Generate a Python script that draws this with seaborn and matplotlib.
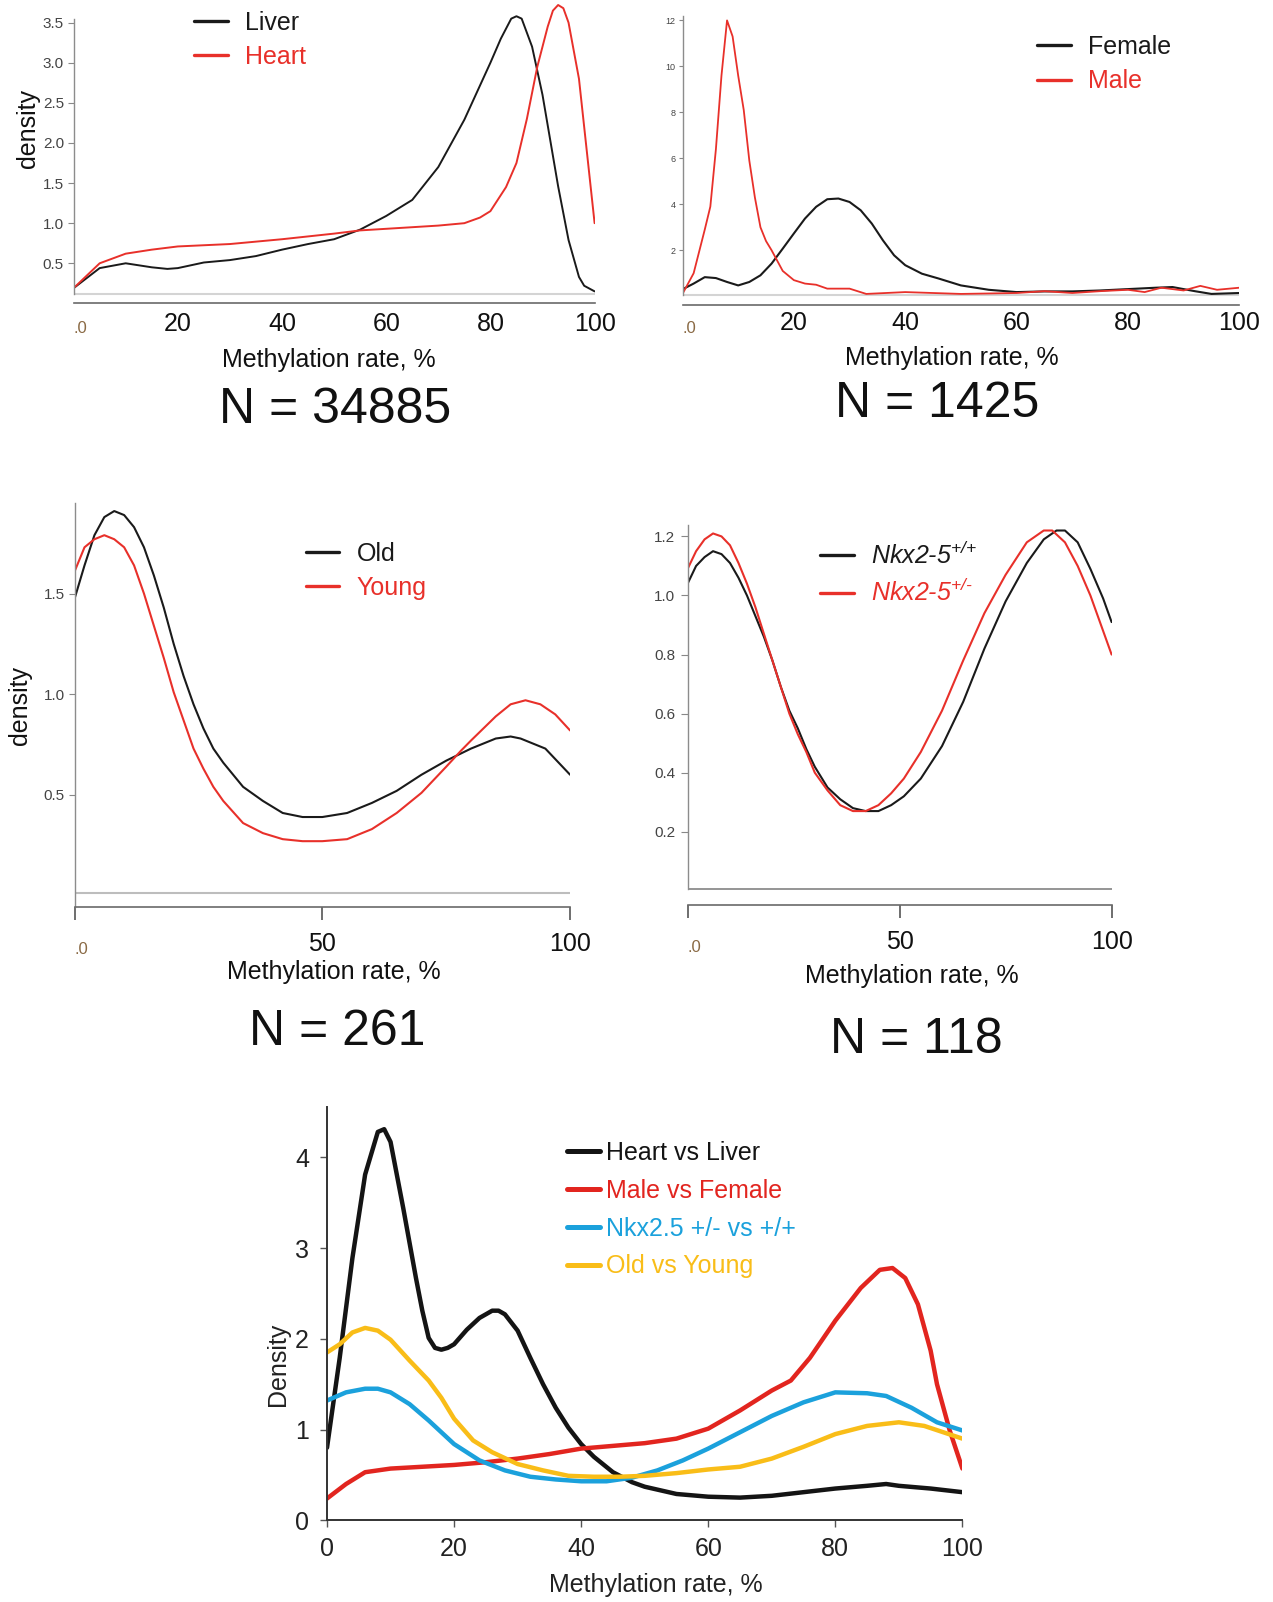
import matplotlib
matplotlib.use("Agg")
import matplotlib.pyplot as plt
import matplotlib.transforms as mtransforms
import seaborn as sns
import numpy as np

# ---------------- data ----------------
# Panel 1: Liver vs Heart
p1_liver_x = [0, 5, 10, 15, 18, 20, 25, 30, 35, 40, 45, 50, 55, 60, 65, 70, 75, 80, 82, 84, 85, 86, 88, 90, 93, 95, 97, 98, 100]
p1_liver_y = [0.19, 0.44, 0.50, 0.45, 0.43, 0.44, 0.51, 0.54, 0.59, 0.67, 0.74, 0.80, 0.92, 1.09, 1.29, 1.70, 2.29, 3.00, 3.30, 3.55, 3.58, 3.55, 3.20, 2.60, 1.46, 0.79, 0.33, 0.22, 0.15]
p1_heart_x = [0, 5, 10, 15, 20, 30, 40, 50, 55, 60, 70, 75, 78, 80, 83, 85, 87, 89, 91, 92, 93, 94, 95, 97, 100]
p1_heart_y = [0.19, 0.50, 0.62, 0.67, 0.71, 0.74, 0.80, 0.87, 0.91, 0.93, 0.97, 1.00, 1.07, 1.15, 1.45, 1.75, 2.30, 2.95, 3.45, 3.65, 3.72, 3.68, 3.50, 2.80, 1.00]

# Panel 2: Female vs Male
p2_female_x = [0, 2, 4, 6, 8, 10, 12, 14, 16, 18, 20, 22, 24, 26, 28, 30, 32, 34, 36, 38, 40, 43, 46, 50, 55, 60, 65, 70, 75, 80, 85, 88, 92, 95, 100]
p2_female_y = [0.30, 0.55, 0.83, 0.79, 0.62, 0.47, 0.62, 0.91, 1.42, 2.07, 2.73, 3.38, 3.89, 4.22, 4.25, 4.10, 3.74, 3.16, 2.43, 1.78, 1.35, 0.98, 0.77, 0.47, 0.28, 0.18, 0.21, 0.21, 0.25, 0.31, 0.37, 0.40, 0.22, 0.10, 0.14]
p2_male_x = [0, 2, 4, 5, 6, 7, 8, 9, 10, 11, 12, 13, 14, 15, 16, 18, 20, 22, 24, 26, 30, 33, 40, 50, 60, 65, 70, 75, 80, 83, 86, 90, 93, 96, 100]
p2_male_y = [0.10, 1.00, 2.90, 3.90, 6.40, 9.60, 12.00, 11.30, 9.60, 8.10, 5.90, 4.30, 3.00, 2.40, 2.00, 1.10, 0.70, 0.55, 0.50, 0.33, 0.33, 0.10, 0.18, 0.10, 0.14, 0.22, 0.14, 0.22, 0.28, 0.18, 0.37, 0.25, 0.45, 0.28, 0.37]

# Panel 3: Old vs Young
p3_old_x = [0, 2, 4, 6, 8, 10, 12, 14, 16, 18, 20, 22, 24, 26, 28, 30, 34, 38, 42, 46, 50, 55, 60, 65, 70, 75, 80, 85, 88, 90, 95, 100]
p3_old_y = [1.475, 1.64, 1.79, 1.88, 1.91, 1.89, 1.83, 1.73, 1.59, 1.43, 1.25, 1.09, 0.95, 0.83, 0.73, 0.66, 0.54, 0.47, 0.41, 0.39, 0.39, 0.41, 0.46, 0.52, 0.60, 0.67, 0.73, 0.78, 0.79, 0.78, 0.73, 0.60]
p3_young_x = [0, 2, 4, 6, 8, 10, 12, 14, 16, 18, 20, 22, 24, 26, 28, 30, 34, 38, 42, 46, 50, 55, 60, 65, 70, 75, 78, 80, 85, 88, 91, 94, 97, 100]
p3_young_y = [1.61, 1.73, 1.77, 1.79, 1.77, 1.73, 1.64, 1.50, 1.34, 1.18, 1.01, 0.87, 0.73, 0.63, 0.54, 0.47, 0.36, 0.31, 0.28, 0.27, 0.27, 0.28, 0.33, 0.41, 0.51, 0.64, 0.72, 0.77, 0.89, 0.95, 0.97, 0.95, 0.90, 0.82]

# Panel 4: Nkx2-5 +/+ vs +/-
p4_wt_x = [0, 2, 4, 6, 8, 10, 12, 14, 16, 18, 20, 22, 24, 26, 28, 30, 33, 36, 39, 42, 45, 48, 51, 55, 60, 65, 70, 75, 80, 84, 87, 89, 92, 95, 98, 100]
p4_wt_y = [1.04, 1.10, 1.13, 1.15, 1.14, 1.11, 1.06, 1.00, 0.93, 0.86, 0.78, 0.69, 0.61, 0.55, 0.48, 0.42, 0.35, 0.31, 0.28, 0.27, 0.27, 0.29, 0.32, 0.38, 0.49, 0.64, 0.82, 0.98, 1.11, 1.19, 1.22, 1.22, 1.18, 1.09, 0.99, 0.91]
p4_het_x = [0, 2, 4, 6, 8, 10, 12, 14, 16, 18, 20, 22, 24, 26, 28, 30, 33, 36, 39, 42, 45, 48, 51, 55, 60, 65, 70, 75, 80, 84, 86, 89, 92, 95, 98, 100]
p4_het_y = [1.09, 1.15, 1.19, 1.21, 1.20, 1.17, 1.11, 1.04, 0.96, 0.87, 0.78, 0.69, 0.60, 0.53, 0.47, 0.40, 0.34, 0.29, 0.27, 0.27, 0.29, 0.33, 0.38, 0.47, 0.61, 0.78, 0.94, 1.07, 1.18, 1.22, 1.22, 1.18, 1.10, 1.00, 0.88, 0.80]

# Panel 5: comparison of differentially methylated sites
p5_hl_x = [0, 2, 4, 6, 8, 9, 10, 12, 14, 15, 16, 17, 18, 19, 20, 22, 24, 26, 27, 28, 30, 32, 34, 36, 38, 40, 42, 45, 48, 50, 55, 60, 65, 70, 75, 80, 85, 88, 90, 95, 100]
p5_hl_y = [0.80, 1.79, 2.89, 3.81, 4.28, 4.31, 4.17, 3.44, 2.67, 2.31, 2.01, 1.90, 1.88, 1.90, 1.94, 2.10, 2.23, 2.31, 2.31, 2.27, 2.09, 1.79, 1.50, 1.24, 1.02, 0.84, 0.70, 0.53, 0.42, 0.37, 0.29, 0.26, 0.25, 0.27, 0.31, 0.35, 0.38, 0.40, 0.38, 0.35, 0.31]
p5_mf_x = [0, 3, 6, 8, 10, 15, 20, 25, 30, 35, 40, 45, 50, 55, 60, 65, 70, 73, 76, 80, 84, 87, 89, 91, 93, 95, 96, 98, 100]
p5_mf_y = [0.24, 0.40, 0.53, 0.55, 0.57, 0.59, 0.61, 0.64, 0.68, 0.73, 0.79, 0.82, 0.85, 0.90, 1.01, 1.21, 1.43, 1.54, 1.79, 2.20, 2.56, 2.76, 2.78, 2.67, 2.38, 1.87, 1.50, 0.99, 0.57]
p5_nkx_x = [0, 3, 6, 8, 10, 13, 16, 20, 24, 28, 32, 36, 40, 44, 48, 52, 56, 60, 65, 70, 75, 80, 85, 88, 92, 96, 100]
p5_nkx_y = [1.32, 1.41, 1.45, 1.45, 1.41, 1.28, 1.10, 0.84, 0.66, 0.55, 0.48, 0.45, 0.43, 0.43, 0.47, 0.55, 0.66, 0.79, 0.97, 1.15, 1.30, 1.41, 1.40, 1.37, 1.24, 1.08, 0.99]
p5_oy_x = [0, 2, 4, 6, 8, 10, 13, 16, 18, 20, 23, 26, 30, 34, 38, 42, 46, 50, 55, 60, 65, 70, 75, 80, 85, 90, 94, 100]
p5_oy_y = [1.85, 1.94, 2.07, 2.12, 2.09, 1.99, 1.76, 1.54, 1.35, 1.12, 0.88, 0.75, 0.62, 0.55, 0.49, 0.48, 0.48, 0.49, 0.52, 0.56, 0.59, 0.68, 0.81, 0.95, 1.04, 1.08, 1.04, 0.90]

p5_labels = ["Heart vs Liver", "Male vs Female", "Nkx2.5 +/- vs +/+", "Old vs Young"]
n_labels = ["N = 34885", "N = 1425", "N = 261", "N = 118"]

# ---------------- style ----------------
sns.set_theme(style="white")
plt.rcParams["font.family"] = ["Liberation Sans", "DejaVu Sans"]
plt.rcParams["mathtext.fontset"] = "custom"
plt.rcParams["mathtext.rm"] = "Liberation Sans:italic"
plt.rcParams["mathtext.it"] = "Liberation Sans:italic"

BLACK = "#1a1a1a"
RED = "#e8302a"
C5 = ["#141414", "#e2251f", "#1ba1dc", "#f9bd18"]

W, H = 1273, 1602
fig = plt.figure(figsize=(W / 100, H / 100), dpi=100)


def make_ax(l, t, r, b):
    return fig.add_axes([l / W, 1 - b / H, (r - l) / W, (b - t) / H])


def draw(ax, x, y, color, label, lw):
    sns.lineplot(x=x, y=y, color=color, label=label, linewidth=lw, ax=ax,
                 estimator=None, errorbar=None, sort=False)


def legend(ax, x_px, y1_px, spacing, lw, hl=1.35, pad=0.7):
    leg = ax.legend(loc="upper left", bbox_to_anchor=(x_px / W, 1 - (y1_px - 14) / H),
                    bbox_transform=fig.transFigure, frameon=False, borderpad=0,
                    borderaxespad=0, handlelength=hl, handletextpad=pad,
                    labelspacing=spacing, fontsize=18, labelcolor="linecolor")
    for ln in leg.get_lines():
        ln.set_linewidth(lw)
    return leg


def ftext(x, y, s, **kw):
    fig.text(x / W, 1 - y / H, s, ha="center", va="center", **kw)


def small_zero(ax):
    lab = ax.get_xticklabels()[0]
    lab.set_fontsize(12)
    lab.set_color("#8a6a45")
    lab.set_horizontalalignment("left")
    lab.set_transform(lab.get_transform() +
                      mtransforms.ScaledTranslation(0, -7 / 72, fig.dpi_scale_trans))


def base_style(ax):
    for s in ["top", "right"]:
        ax.spines[s].set_visible(False)
    ax.spines["left"].set_color("#8c8c8c")
    ax.spines["bottom"].set_color("#6a6a6a")
    ax.spines["left"].set_linewidth(1.0)
    ax.spines["bottom"].set_linewidth(1.2)
    ax.set_xlabel("")
    ax.set_ylabel("")


# ---------------- panel 1 ----------------
ax1 = make_ax(73.6, 2.6, 594.6, 303.4)
draw(ax1, p1_liver_x, p1_liver_y, BLACK, "Liver", 1.4)
draw(ax1, p1_heart_x, p1_heart_y, RED, "Heart", 1.4)
ax1.axhline(0.12, color="#d4d4d4", lw=1.5, zorder=0)
ax1.set_xlim(0, 100)
ax1.set_ylim(0, 3.75)
base_style(ax1)
ax1.spines["left"].set_bounds(0.12, 3.55)
ax1.set_yticks([0.5, 1.0, 1.5, 2.0, 2.5, 3.0, 3.5])
ax1.set_yticklabels(["0.5", "1.0", "1.5", "2.0", "2.5", "3.0", "3.5"])
ax1.tick_params(axis="y", length=4, width=0.8, color="#888", pad=3, labelsize=11, labelcolor="#444", left=True)
ax1.set_xticks([0, 20, 40, 60, 80, 100])
ax1.set_xticklabels([".0", "20", "40", "60", "80", "100"])
ax1.tick_params(axis="x", length=0, pad=6, labelsize=18, labelcolor="#111")
ax1.set_xticks([0], minor=True)
ax1.tick_params(axis="x", which="minor", length=8, width=1.2, color="#555", bottom=True)
legend(ax1, 194, 24.5, 0.42, 2.4)

# ---------------- panel 2 ----------------
ax2 = make_ax(682.5, 15.8, 1239.3, 304.5)
draw(ax2, p2_female_x, p2_female_y, BLACK, "Female", 1.5)
draw(ax2, p2_male_x, p2_male_y, RED, "Male", 1.3)
ax2.axhline(0.05, color="#d4d4d4", lw=1.5, zorder=0)
ax2.set_xlim(0, 100)
ax2.set_ylim(-0.36, 12.2)
base_style(ax2)
ax2.spines["left"].set_bounds(0.05, 12.2)
ax2.set_yticks([2, 4, 6, 8, 10, 12])
ax2.tick_params(axis="y", length=3, width=0.8, color="#888", pad=2, labelsize=6.5, labelcolor="#444", left=True)
ax2.set_xticks([0, 20, 40, 60, 80, 100])
ax2.set_xticklabels([".0", "20", "40", "60", "80", "100"])
ax2.tick_params(axis="x", length=0, pad=5, labelsize=18, labelcolor="#111")
ax2.set_xticks([0], minor=True)
ax2.tick_params(axis="x", which="minor", length=8, width=1.2, color="#555", bottom=True)
legend(ax2, 1037, 49, 0.42, 2.4)

# ---------------- panel 3 ----------------
ax3 = make_ax(74.6, 503, 570.1, 907)
draw(ax3, p3_old_x, p3_old_y, BLACK, "Old", 1.5)
draw(ax3, p3_young_x, p3_young_y, RED, "Young", 1.5)
ax3.axhline(0.015, color="#bdbdbd", lw=1.5, zorder=0)
ax3.set_xlim(0, 100)
ax3.set_ylim(-0.057, 1.95)
base_style(ax3)
ax3.set_yticks([0.5, 1.0, 1.5])
ax3.set_yticklabels(["0.5", "1.0", "1.5"])
ax3.tick_params(axis="y", length=4, width=0.8, color="#888", pad=3, labelsize=11, labelcolor="#444", left=True)
ax3.set_xticks([0, 50, 100])
ax3.set_xticklabels([".0", "50", "100"])
ax3.tick_params(axis="x", length=9, width=1.2, color="#555", pad=9, labelsize=18, labelcolor="#111", bottom=True)
legend(ax3, 305.5, 555.7, 0.42, 2.4)

# ---------------- panel 4 ----------------
ax4 = make_ax(687.6, 524.6, 1111.6, 905)
draw(ax4, p4_wt_x, p4_wt_y, BLACK, r"Nkx2-5$^{{+}/{+}}$", 1.5)
draw(ax4, p4_het_x, p4_het_y, RED, r"Nkx2-5$^{{+}/{\text{-}}}$", 1.5)
ax4.axhline(0.005, color="#8c8c8c", lw=1.3, zorder=0)
ax4.set_xlim(0, 100)
ax4.set_ylim(-0.048, 1.24)
base_style(ax4)
ax4.spines["left"].set_bounds(0.005, 1.24)
ax4.set_yticks([0.2, 0.4, 0.6, 0.8, 1.0, 1.2])
ax4.set_yticklabels(["0.2", "0.4", "0.6", "0.8", "1.0", "1.2"])
ax4.tick_params(axis="y", length=5, width=0.8, color="#888", pad=4, labelsize=11, labelcolor="#444", left=True)
ax4.set_xticks([0, 50, 100])
ax4.set_xticklabels([".0", "50", "100"])
ax4.tick_params(axis="x", length=9, width=1.2, color="#555", pad=9, labelsize=18, labelcolor="#111", bottom=True)
leg4 = legend(ax4, 820, 555.7, 0.42, 2.4)
for t in leg4.get_texts():
    t.set_fontstyle("italic")

# ---------------- panel 5 ----------------
ax5 = make_ax(327, 1106.5, 962.4, 1520.3)
draw(ax5, p5_hl_x, p5_hl_y, C5[0], p5_labels[0], 3.2)
draw(ax5, p5_mf_x, p5_mf_y, C5[1], p5_labels[1], 3.2)
draw(ax5, p5_nkx_x, p5_nkx_y, C5[2], p5_labels[2], 3.2)
draw(ax5, p5_oy_x, p5_oy_y, C5[3], p5_labels[3], 3.2)
ax5.set_xlim(0, 100)
ax5.set_ylim(0, 4.56)
base_style(ax5)
for s in ["left", "bottom"]:
    ax5.spines[s].set_color("#333")
    ax5.spines[s].set_linewidth(1.4)
ax5.set_yticks([0, 1, 2, 3, 4])
ax5.set_xticks([0, 20, 40, 60, 80, 100])
ax5.tick_params(axis="y", length=5, width=1, color="#555", pad=8, labelsize=18, labelcolor="#222", left=True)
ax5.tick_params(axis="x", length=5, width=1, color="#555", pad=7, labelsize=18, labelcolor="#222", bottom=True)
legend(ax5, 567, 1155, 0.55, 3.6, hl=1.3, pad=0.25)

# small ".0" labels (after all tick_params calls)
for a in (ax1, ax2, ax3, ax4):
    small_zero(a)

# ---------------- labels ----------------
ftext(27.6, 128, "density", rotation=90, fontsize=18, color="#111")
ftext(20.4, 705, "density", rotation=90, fontsize=18, color="#111")
ftext(278, 1364, "Density", rotation=90, fontsize=18, color="#222")

ftext(329, 360.5, "Methylation rate, %", fontsize=18, color="#111")
ftext(952, 358.5, "Methylation rate, %", fontsize=18, color="#111")
ftext(334, 971.5, "Methylation rate, %", fontsize=18, color="#111")
ftext(912, 975.5, "Methylation rate, %", fontsize=18, color="#111")
ftext(656, 1585, "Methylation rate, %", fontsize=18, color="#222")

ftext(335, 410, n_labels[0], fontsize=36, color="#111")
ftext(937, 404, n_labels[1], fontsize=36, color="#111")
ftext(337, 1032, n_labels[2], fontsize=36, color="#111")
ftext(916.5, 1040, n_labels[3], fontsize=36, color="#111")

fig.savefig("out.png", dpi=100, facecolor="white")
